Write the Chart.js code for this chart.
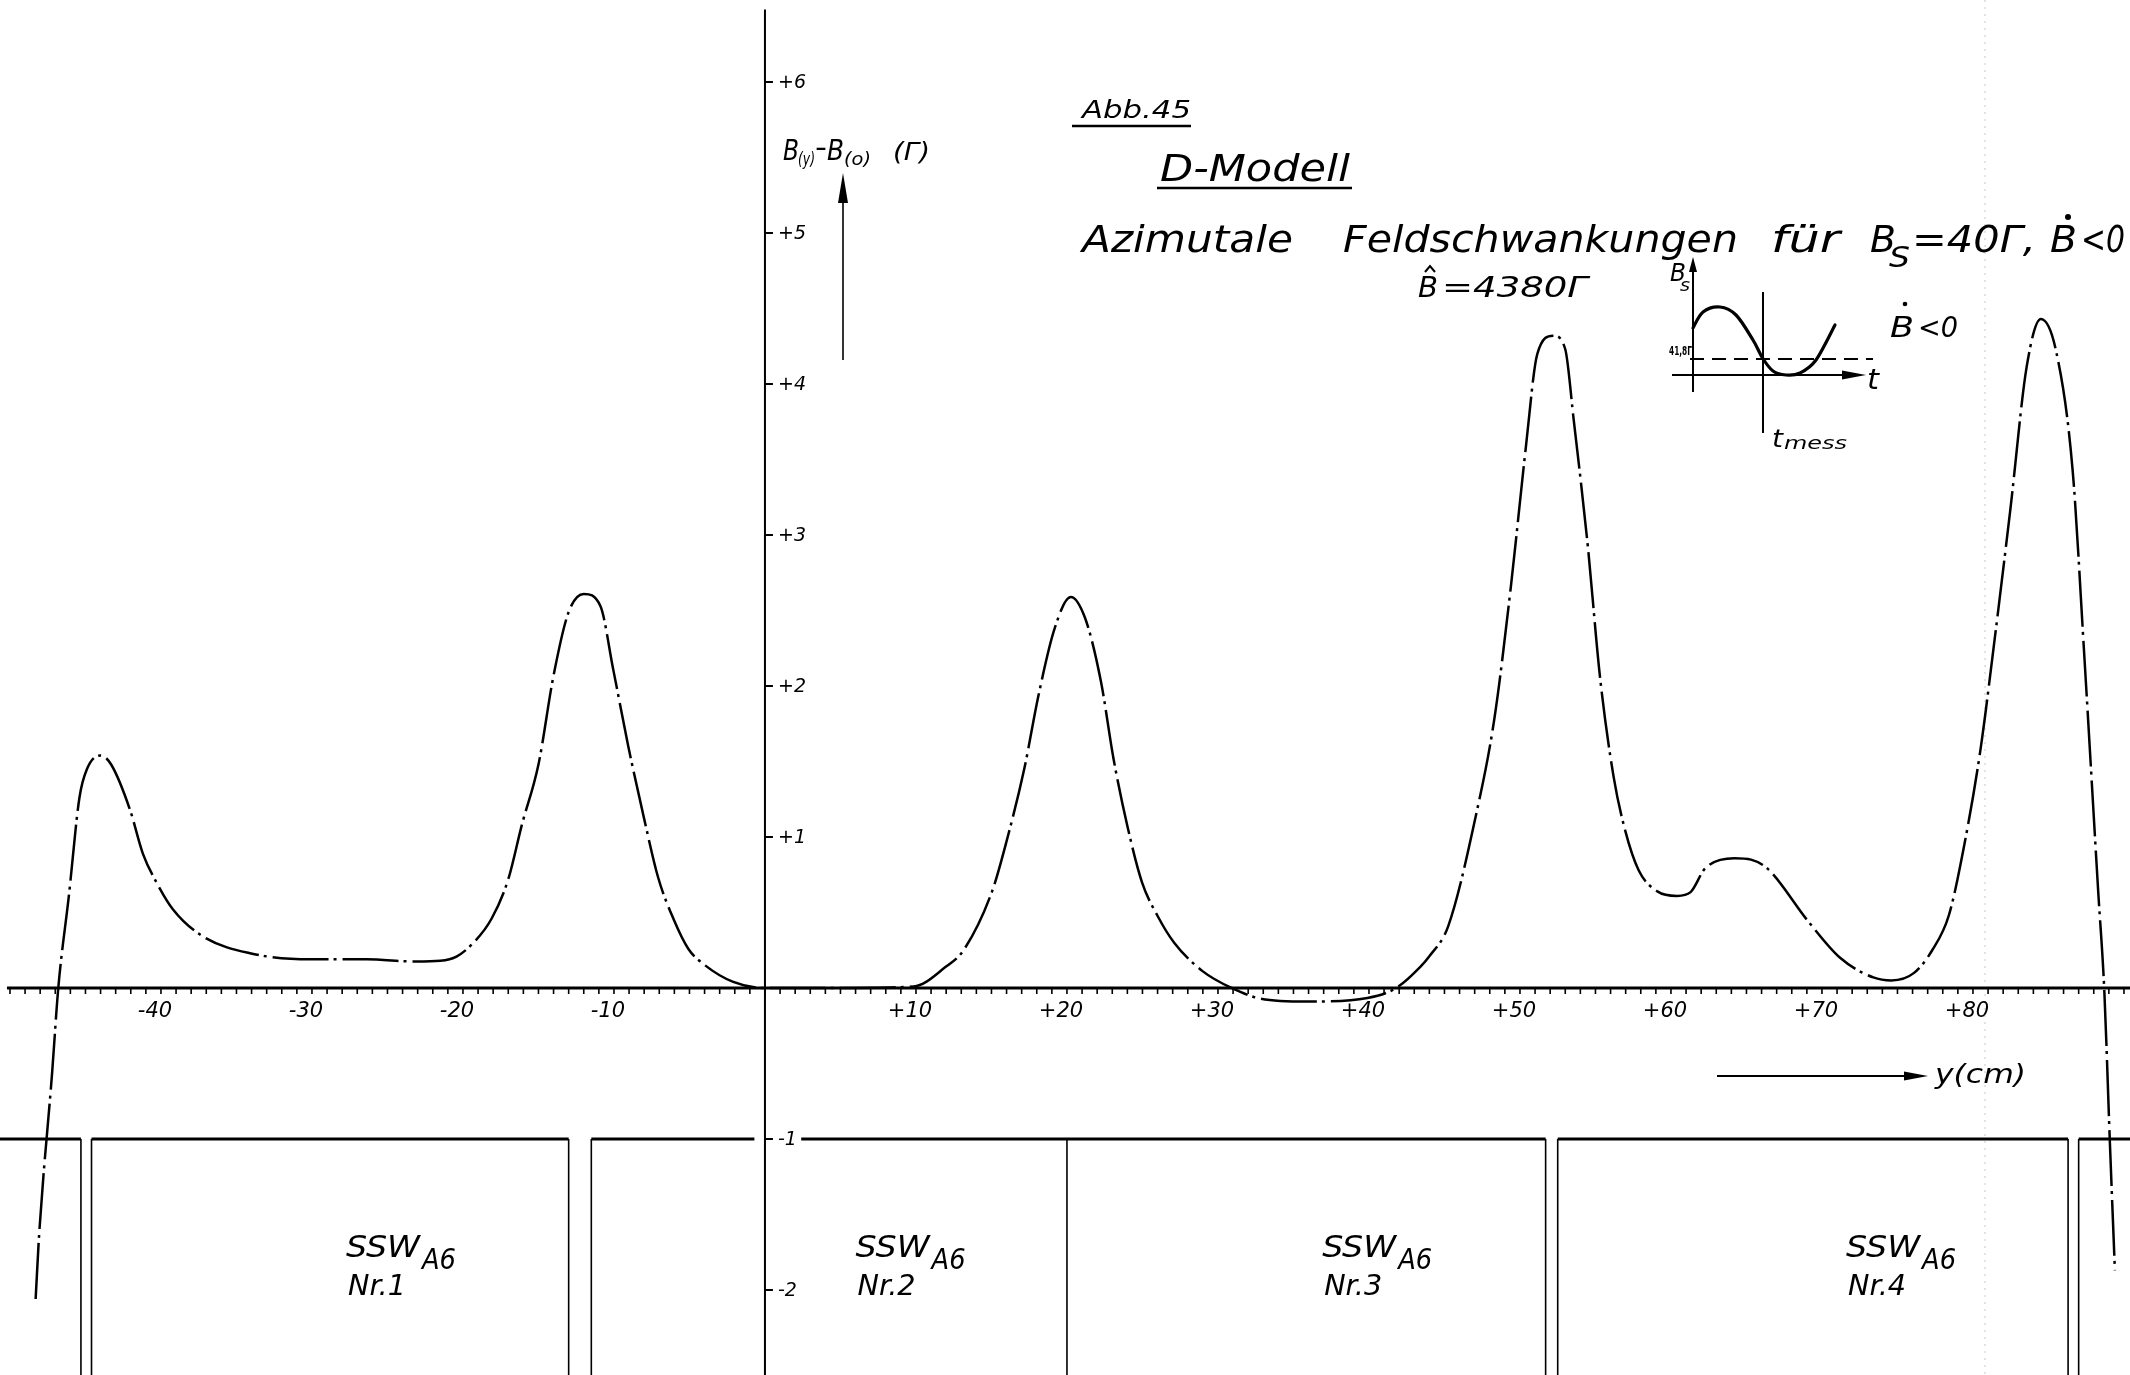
<!DOCTYPE html>
<html>
<head>
<meta charset="utf-8">
<title>D-Modell – Azimutale Feldschwankungen</title>
<script src="https://cdn.jsdelivr.net/npm/chart.js@4/dist/chart.umd.min.js"></script>
<style>
  html, body { margin: 0; padding: 0; background: #fff; overflow: hidden; }
  canvas { display: block; }
</style>
</head>
<body>
<canvas id="sheet" width="2130" height="1375"></canvas>
<script>
// Azimuthal position y (cm)
const positions = [
  -48.3, -48.06, -47.2, -46.8, -46.1, -45.4, -44.9, -44.0, -43.3, -42.05,
  -41.2, -40.3, -39.2, -37.2, -34.1, -30.1, -26.4, -23.1, -21.5, -20.4,
  -19.3, -18.1, -17.0, -16.1, -15.0, -14.0, -13.0, -12.0, -10.9, -10.05,
  -9.05, -8.0, -7.07, -6.07, -5.08, -4.09, -2.1, 0, 5, 9.85,
  11.97, 13.15, 15.04, 16.1, 17.17, 18.12, 19.18, 20.25, 21.2, 22.25,
  23.08, 24.03, 24.97, 26.04, 27.1, 29.0, 30.9, 32.8, 35.9, 39.9,
  41.8, 43.4, 44.0, 45.25, 47.1, 48.3, 49.4, 50.4, 51.15, 52.2,
  53.0, 53.55, 54.5, 55.3, 56.2, 56.95, 57.86, 59.1, 60.4, 61.3,
  62.25, 64.2, 65.3, 66.4, 69.1, 71.2, 73.4, 74.6, 76.1, 77.3,
  78.4, 79.45, 80.5, 81.4, 82.5, 83.55, 84.5, 85.5, 86.6, 87.35,
  88.3, 88.7, 89.07, 89.4
];
// Field deviation B(y) - B(0) in Gauss
const fieldValues = [
  -2.06, -1.62, -0.55, 0.0, 0.61, 1.26, 1.45, 1.54, 1.48, 1.18,
  0.89, 0.70, 0.52, 0.34, 0.23, 0.19, 0.19, 0.175, 0.18, 0.21,
  0.30, 0.46, 0.72, 1.08, 1.48, 2.07, 2.49, 2.61, 2.53, 2.11,
  1.60, 1.12, 0.73, 0.46, 0.26, 0.16, 0.04, 0.0, 0.0, 0.01,
  0.14, 0.25, 0.64, 1.01, 1.45, 1.94, 2.38, 2.59, 2.45, 2.03,
  1.52, 1.06, 0.70, 0.47, 0.30, 0.11, 0.0, -0.07, -0.09, -0.066,
  0.0, 0.14, 0.21, 0.41, 1.15, 1.78, 2.66, 3.59, 4.20, 4.32,
  4.23, 3.77, 2.92, 2.06, 1.40, 1.05, 0.78, 0.64, 0.61, 0.635,
  0.79, 0.86, 0.85, 0.79, 0.44, 0.20, 0.07, 0.05, 0.10, 0.25,
  0.48, 0.96, 1.58, 2.28, 3.19, 4.11, 4.43, 4.22, 3.43, 2.24,
  0.63, -0.02, -1.03, -1.87
];

// Axis ticks
const xTickValues = [-40, -30, -20, -10, 10, 20, 30, 40, 50, 60, 70, 80];
const xTickLabels = ['-40', '-30', '-20', '-10', '+10', '+20', '+30', '+40', '+50', '+60', '+70', '+80'];
const yTickValues = [6, 5, 4, 3, 2, 1, -1, -2];
const yTickLabels = ['+6', '+5', '+4', '+3', '+2', '+1', '-1', '-2'];

// Magnet blocks SSW A6 Nr.1 - Nr.4 (outline at level -1)
const blockLevel = -1;
const blockTopRuns = [[-52, -45.3], [-44.6, -13.0], [-11.5, -0.7], [2.4, 51.7], [52.5, 86.3], [87.0, 92]];
const blockEdges = [-45.3, -44.6, -13.0, -11.5, 20.0, 51.7, 52.5, 86.3, 87.0];
const blockNames = ['Nr.1', 'Nr.2', 'Nr.3', 'Nr.4'];
const blockLabelPos = [-27.75, 6.0, 36.9, 71.6];
const blockNameLevel = -1.78;
const blockNumberLevel = -2.03;

const INK = '#000';
const FONT = '"DejaVu Sans", "Liberation Sans", sans-serif';

const curveData = positions.map((x, i) => ({ x, y: fieldValues[i] }));
const topRunData = [];
blockTopRuns.forEach(([a, b]) => {
  topRunData.push({ x: a, y: blockLevel }, { x: b, y: blockLevel }, { x: b, y: null });
});
const edgeData = [];
blockEdges.forEach(x => {
  edgeData.push({ x, y: blockLevel }, { x, y: -2.8 }, { x, y: null });
});

function fitText(ctx, txt, x, y, w, font) {
  ctx.font = font;
  const m = ctx.measureText(txt).width;
  ctx.save();
  ctx.translate(x, y);
  ctx.scale(w / m, 1);
  ctx.fillText(txt, 0, 0);
  ctx.restore();
}
function seg(ctx, x1, y1, x2, y2) {
  ctx.beginPath(); ctx.moveTo(x1, y1); ctx.lineTo(x2, y2); ctx.stroke();
}
function arrowHead(ctx, tipX, tipY, dir, len, half) {
  ctx.beginPath();
  if (dir === 'up') {
    ctx.moveTo(tipX, tipY); ctx.lineTo(tipX - half, tipY + len); ctx.lineTo(tipX + half, tipY + len);
  } else {
    ctx.moveTo(tipX, tipY); ctx.lineTo(tipX - len, tipY - half); ctx.lineTo(tipX - len, tipY + half);
  }
  ctx.closePath(); ctx.fill();
}

const sheetPlugin = {
  id: 'sheet',
  beforeDatasetsDraw(chart) {
    const ctx = chart.ctx, xs = chart.scales.x, ys = chart.scales.y, area = chart.chartArea;
    const x0 = xs.getPixelForValue(0), y0 = ys.getPixelForValue(0);
    ctx.save();
    ctx.strokeStyle = INK; ctx.fillStyle = INK; ctx.lineCap = 'butt';

    // y axis (cm) – horizontal line with 1 cm ticks
    ctx.lineWidth = 3;
    seg(ctx, xs.getPixelForValue(-50.2), y0, area.right, y0);
    ctx.lineWidth = 1.6;
    for (let v = -50; v <= 90; v++) {
      const px = xs.getPixelForValue(v);
      seg(ctx, px, y0, px, y0 + 6);
    }
    ctx.font = 'italic 21px ' + FONT;
    ctx.textAlign = 'center'; ctx.textBaseline = 'middle';
    xTickValues.forEach((v, i) => {
      ctx.fillText(xTickLabels[i], xs.getPixelForValue(v) - 6, y0 + 24);
    });

    // field axis
    ctx.lineWidth = 2;
    seg(ctx, x0, ys.getPixelForValue(6.48), x0, area.bottom);
    ctx.font = 'italic 19px ' + FONT;
    ctx.textAlign = 'left';
    yTickValues.forEach((v, i) => {
      const py = ys.getPixelForValue(v);
      ctx.lineWidth = 2;
      seg(ctx, x0, py, x0 + 8, py);
      ctx.fillText(yTickLabels[i], x0 + 13, py + 1);
    });
    ctx.restore();
  },
  afterDatasetsDraw(chart) {
    const ctx = chart.ctx, xs = chart.scales.x, ys = chart.scales.y;
    ctx.save();
    ctx.strokeStyle = INK; ctx.fillStyle = INK;
    ctx.textAlign = 'left'; ctx.textBaseline = 'alphabetic';

    // faint fold line of the sheet
    ctx.save();
    ctx.strokeStyle = 'rgba(0,0,0,0.22)'; ctx.lineWidth = 1; ctx.setLineDash([2, 5]);
    seg(ctx, 1985, 0, 1985, 1375);
    ctx.restore();

    // Axis caption B(y)-B(0) (Γ) with arrow
    fitText(ctx, 'B', 783, 160, 16, 'italic 29px ' + FONT);
    fitText(ctx, '(y)', 798, 165, 17, 'italic 17px ' + FONT);
    fitText(ctx, '-', 815, 157, 12, '28px ' + FONT);
    fitText(ctx, 'B', 827, 160, 17, 'italic 29px ' + FONT);
    fitText(ctx, '(o)', 844, 165, 27, 'italic 17px ' + FONT);
    fitText(ctx, '(Γ)', 893, 160, 37, 'italic 25px ' + FONT);
    ctx.lineWidth = 1.6;
    seg(ctx, 843, 360, 843, 190);
    arrowHead(ctx, 843, 173, 'up', 30, 5);

    // Titles
    fitText(ctx, 'Abb.45', 1082, 118, 109, 'italic 25px ' + FONT);
    ctx.lineWidth = 2.5;
    seg(ctx, 1072, 126, 1191, 126);
    fitText(ctx, 'D-Modell', 1160, 181, 190, 'italic 38px ' + FONT);
    seg(ctx, 1157, 188, 1352, 188);

    const tf = 'italic 38px ' + FONT;
    fitText(ctx, 'Azimutale', 1082, 252, 211, tf);
    fitText(ctx, 'Feldschwankungen', 1343, 252, 395, tf);
    fitText(ctx, 'für', 1771, 252, 69, tf);
    fitText(ctx, 'B', 1870, 252, 26, tf);
    fitText(ctx, 'S', 1889, 267, 21, 'italic 28px ' + FONT);
    fitText(ctx, '=40Γ,', 1912, 252, 124, tf);
    fitText(ctx, 'B', 2050, 252, 27, tf);
    ctx.beginPath(); ctx.arc(2068, 217, 3, 0, Math.PI * 2); ctx.fill();
    fitText(ctx, '<0', 2081, 252, 44, tf);

    // B^ = 4380 Γ
    fitText(ctx, 'B', 1418, 297, 20, 'italic 28px ' + FONT);
    fitText(ctx, '=4380Γ', 1442, 297, 146, 'italic 28px ' + FONT);
    ctx.lineWidth = 2;
    ctx.beginPath(); ctx.moveTo(1425, 272); ctx.lineTo(1430, 266); ctx.lineTo(1435, 272); ctx.stroke();

    // Inset: measuring time on the excitation cycle
    const ox = 1693, oy = 375;
    ctx.lineWidth = 2;
    seg(ctx, ox, oy + 17, ox, oy - 105);
    arrowHead(ctx, ox, oy - 118, 'up', 15, 4);
    seg(ctx, ox - 21, oy, ox + 155, oy);
    arrowHead(ctx, ox + 173, oy, 'right', 24, 4.5);
    ctx.save();
    ctx.setLineDash([14, 8]);
    seg(ctx, ox - 3, oy - 16, ox + 180, oy - 16);
    ctx.restore();
    ctx.lineWidth = 2;
    seg(ctx, ox + 70, oy - 83, ox + 70, oy + 58);
    const sine = [[0, -47], [10, -63], [27, -68], [43, -60], [60, -35], [69.5, -17], [80, -4], [93, 0], [107, -2], [123, -15], [142, -50]];
    ctx.lineWidth = 3.2; ctx.lineJoin = 'round'; ctx.lineCap = 'round';
    ctx.beginPath();
    ctx.moveTo(ox + sine[0][0], oy + sine[0][1]);
    for (let i = 0; i < sine.length - 1; i++) {
      const p0 = sine[Math.max(0, i - 1)], p1 = sine[i], p2 = sine[i + 1], p3 = sine[Math.min(sine.length - 1, i + 2)];
      ctx.bezierCurveTo(
        ox + p1[0] + (p2[0] - p0[0]) / 6, oy + p1[1] + (p2[1] - p0[1]) / 6,
        ox + p2[0] - (p3[0] - p1[0]) / 6, oy + p2[1] - (p3[1] - p1[1]) / 6,
        ox + p2[0], oy + p2[1]);
    }
    ctx.stroke();
    ctx.lineCap = 'butt';
    fitText(ctx, '41,8Γ', 1669, 355, 23, 'bold 12px ' + FONT);
    fitText(ctx, 'B', 1670, 281, 16, 'italic 24px ' + FONT);
    fitText(ctx, 's', 1680, 291, 10, 'italic 18px ' + FONT);
    fitText(ctx, 't', 1867, 389, 12, 'italic 28px ' + FONT);
    fitText(ctx, 't', 1772, 447, 11, 'italic 24px ' + FONT);
    fitText(ctx, 'mess', 1784, 449, 63, 'italic 18px ' + FONT);
    fitText(ctx, 'B', 1890, 337, 24, 'italic 28px ' + FONT);
    ctx.beginPath(); ctx.arc(1905, 304, 2.3, 0, Math.PI * 2); ctx.fill();
    fitText(ctx, '<0', 1918, 337, 40, 'italic 28px ' + FONT);

    // y (cm) direction arrow
    ctx.lineWidth = 2;
    seg(ctx, 1717, 1076, 1906, 1076);
    arrowHead(ctx, 1928, 1076, 'right', 24, 4.5);
    fitText(ctx, 'y(cm)', 1935, 1083, 91, 'italic 26px ' + FONT);

    // Block labels
    blockNames.forEach((name, i) => {
      const px = xs.getPixelForValue(blockLabelPos[i]);
      const pyName = ys.getPixelForValue(blockNameLevel);
      const pyNum = ys.getPixelForValue(blockNumberLevel);
      fitText(ctx, 'SSW', px, pyName, 74, 'italic 31px ' + FONT);
      fitText(ctx, 'A6', px + 76, pyName + 12, 34, 'italic 28px ' + FONT);
      fitText(ctx, name, px + 2, pyNum, 58, 'italic 28px ' + FONT);
    });
    ctx.restore();
  }
};

new Chart(document.getElementById('sheet'), {
  type: 'line',
  data: {
    datasets: [
      {
        label: 'B(y) - B(0)',
        data: curveData,
        borderColor: INK,
        borderWidth: 2.5,
        borderDash: [56, 5, 3, 6],
        cubicInterpolationMode: 'monotone',
        pointRadius: 0,
        fill: false
      },
      {
        label: 'SSW top',
        data: topRunData,
        borderColor: INK,
        borderWidth: 3,
        pointRadius: 0,
        spanGaps: false,
        tension: 0,
        fill: false
      },
      {
        label: 'SSW edges',
        data: edgeData,
        borderColor: INK,
        borderWidth: 1.6,
        pointRadius: 0,
        spanGaps: false,
        tension: 0,
        fill: false
      }
    ]
  },
  options: {
    responsive: false,
    animation: false,
    devicePixelRatio: 1,
    layout: { padding: 0 },
    plugins: { legend: { display: false }, tooltip: { enabled: false }, title: { display: false } },
    scales: {
      x: { type: 'linear', min: -50.66, max: 90.4, display: false },
      y: { type: 'linear', min: -2.563, max: 6.543, display: false }
    }
  },
  plugins: [sheetPlugin]
});
</script>
</body>
</html>
